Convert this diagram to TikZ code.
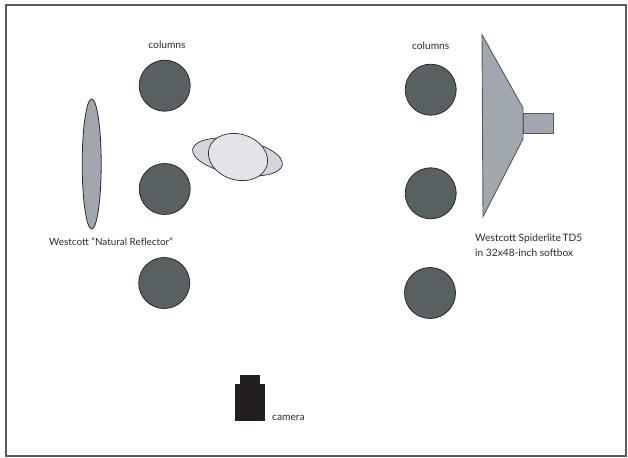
\documentclass[tikz,border=0pt]{standalone}
\usepackage{fontspec}
\setmainfont{Lato}
\usetikzlibrary{shapes.geometric}
\definecolor{PlanColumn}{HTML}{596061}
\definecolor{PlanGrey}{HTML}{A0A7AF}
\definecolor{PlanPale}{HTML}{D2D5DC}
\definecolor{PlanLight}{HTML}{E2E4E9}
\definecolor{PlanLine}{HTML}{2A2A2C}
\definecolor{PlanCamera}{HTML}{231F20}
\definecolor{PlanFrame}{HTML}{58595B}
\begin{document}
\begin{tikzpicture}[x=1pt,y=-1pt]
    \tikzset{columnshape/.style={circle,minimum size=51pt,inner sep=0pt,fill=PlanColumn,draw=PlanLine,line width=0.8pt},
      planlabel/.style={font=\fontsize{10.2}{14.5}\selectfont,text=PlanLine,inner sep=0pt,align=left},
      softshape/.style={fill=PlanGrey,draw=PlanFrame,line width=0.9pt}}
    \useasboundingbox (0,0) rectangle (628,457);
    \draw[PlanFrame,line width=1.1pt] (6,5) rectangle (626,456);
    \node[columnshape] (la) at (164.7,85.7) {};
    \node[columnshape] (lb) at (164.7,189) {};
    \node[columnshape] (lc) at (164.2,283) {};
    \node[columnshape] (ra) at (430.7,89.7) {};
    \node[columnshape] (rb) at (430.7,193.3) {};
    \node[columnshape] (rc) at (430,293) {};
    \node[ellipse,minimum width=19pt,minimum height=130pt,inner sep=0pt,fill=PlanGrey,draw=PlanLine,line width=0.8pt] (reflector) at (91.7,164) {};
    \node[ellipse,minimum width=91pt,minimum height=35pt,inner sep=0pt,rotate=-10,fill=PlanPale,draw=PlanLine,line width=0.7pt] (subjectback) at (237.5,157) {};
    \node[ellipse,minimum width=60.4pt,minimum height=45.8pt,inner sep=0pt,rotate=-17,fill=PlanLight,draw=PlanLine,line width=0.7pt] (subject) at (238,157) {};
    \draw[softshape] (482,34.7) -- (523,108) -- (523,139) -- (483,216.7) -- cycle;
    \draw[softshape] (523,113) rectangle (553,133.7);
    \fill[PlanCamera] (239.5,375) rectangle (260.3,384);
    \fill[PlanCamera] (235.3,384) rectangle (265,421.3);
    \node[planlabel] (columnsl) at (167,45) {columns};
    \node[planlabel] (columnsr) at (430.7,46) {columns};
    \node[planlabel,anchor=west,font=\fontsize{9.9}{14}\selectfont] (reflectorlabel) at (49,242) {Westcott "Natural Reflector"};
    \node[planlabel,anchor=north west] (softlabel) at (475,234) {Westcott Spiderlite\,TD5\\in 32x48-inch softbox};
    \node[planlabel,anchor=west] (cameralabel) at (272,418) {camera};
  \end{tikzpicture}
\end{document}
